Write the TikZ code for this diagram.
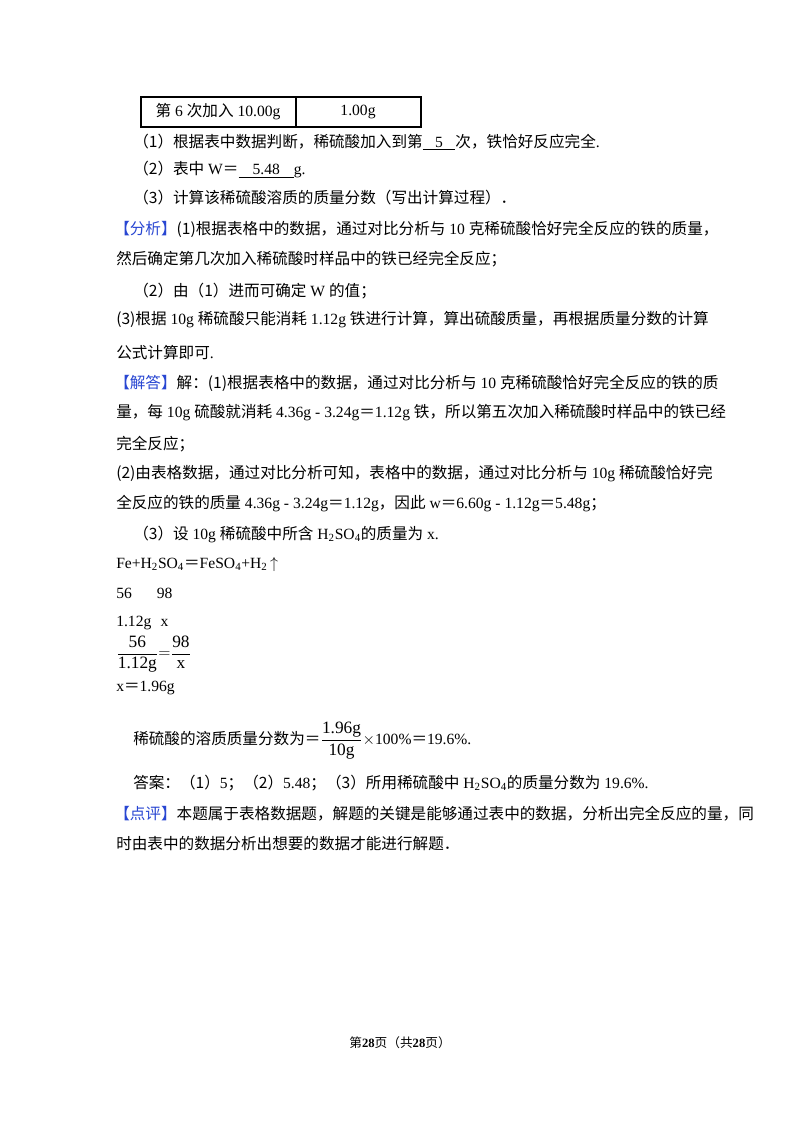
\documentclass[tikz,border=0pt]{standalone}
\usepackage{amsmath}
\usepackage{fontspec}
\setmainfont{Liberation Serif}
\newfontfamily\cjk{Noto Sans CJK SC}
\definecolor{hb}{RGB}{40,70,210}
\newcommand{\hd}[1]{{\color{hb}\cjk【#1】}}
\begin{document}
\begin{tikzpicture}[x=0.75pt,y=-0.75pt,
  t/.style={anchor=west,inner sep=0pt,font=\fontsize{11.7}{13}\selectfont}]
\useasboundingbox (0,0) rectangle (800,1132);
\fill[white] (0,0) rectangle (800,1132);
\draw[line width=0.8pt] (141,97) rectangle (421,127) (296,97) -- (296,127);
\node[t,anchor=center] (c1) at (218,112) {{\cjk 第} 6 {\cjk 次加入} 10.00g};
\node[t,anchor=center] (c2) at (358,112) {1.00g};
\node[t] (l1) at (133,142) {{\cjk （1）根据表中数据判断，稀硫酸加入到第}\underline{\hspace{0.8em}5\hspace{0.8em}}{\cjk 次，铁恰好反应完全}.};
\node[t] (l2) at (133,170) {{\cjk （2）表中} W{\cjk ＝}\underline{\hspace{0.9em}5.48\hspace{0.9em}}g.};
\node[t] (l3) at (133,198) {\cjk （3）计算该稀硫酸溶质的质量分数（写出计算过程）．};
\node[t] (l4) at (114,229) {\hd{分析}{\cjk (1)根据表格中的数据，通过对比分析与} 10 {\cjk 克稀硫酸恰好完全反应的铁的质量，}};
\node[t] (l5) at (116,259) {\cjk 然后确定第几次加入稀硫酸时样品中的铁已经完全反应；};
\node[t] (l6) at (133,291) {{\cjk （2）由（1）进而可确定} W {\cjk 的值；}};
\node[t] (l7) at (116,320) {{\cjk (3)根据} 10g {\cjk 稀硫酸只能消耗} 1.12g {\cjk 铁进行计算，算出硫酸质量，再根据质量分数的计算}};
\node[t] (l8) at (116,353) {{\cjk 公式计算即可}.};
\node[t] (l9) at (114,383) {\hd{解答}{\cjk 解：(1)根据表格中的数据，通过对比分析与} 10 {\cjk 克稀硫酸恰好完全反应的铁的质}};
\node[t] (l10) at (116,413) {{\cjk 量，每} 10g {\cjk 硫酸就消耗} 4.36g - 3.24g{\cjk ＝}1.12g {\cjk 铁，所以第五次加入稀硫酸时样品中的铁已经}};
\node[t] (l11) at (116,444) {\cjk 完全反应；};
\node[t] (l12) at (116,474) {{\cjk (2)由表格数据，通过对比分析可知，表格中的数据，通过对比分析与} 10g {\cjk 稀硫酸恰好完}};
\node[t] (l13) at (116,504) {{\cjk 全反应的铁的质量} 4.36g - 3.24g{\cjk ＝}1.12g{\cjk ，因此} w{\cjk ＝}6.60g - 1.12g{\cjk ＝}5.48g{\cjk ；}};
\node[t] (l14) at (133,534) {{\cjk （3）设} 10g {\cjk 稀硫酸中所含} H\textsubscript{2}SO\textsubscript{4}{\cjk 的质量为} x.};
\node[t] (l15) at (116,564) {Fe+H\textsubscript{2}SO\textsubscript{4}{\cjk ＝}FeSO\textsubscript{4}+H\textsubscript{2}\,$\uparrow$};
\node[t] (l16) at (116,593) {56\hspace{1.6em}98};
\node[t] (l17) at (116,623) {1.12g\hspace{0.6em}x};
\node[t,font=\fontsize{13}{15}\selectfont] (l18) at (116,654) {$\dfrac{\hbox{56}}{\hbox{1.12g}}{=}\dfrac{\hbox{98}}{\hbox{x}}$};
\node[t] (l19) at (116,688) {x{\cjk ＝}1.96g};
\node[t] (l20) at (133,741) {{\cjk 稀硫酸的溶质质量分数为＝}{\fontsize{13}{15}\selectfont$\dfrac{\hbox{1.96g}}{\hbox{10g}}$}$\times$100\%{\cjk ＝}19.6\%.};
\node[t] (l21) at (133,783) {{\cjk 答案：（1）}5{\cjk ；（2）}5.48{\cjk ；（3）所用稀硫酸中} H\textsubscript{2}SO\textsubscript{4}{\cjk 的质量分数为} 19.6\%.};
\node[t] (l22) at (114,814) {\hd{点评}{\cjk 本题属于表格数据题，解题的关键是能够通过表中的数据，分析出完全反应的量，同}};
\node[t] (l23) at (116,844) {\cjk 时由表中的数据分析出想要的数据才能进行解题．};
\node[anchor=center,inner sep=0pt,font=\fontsize{9.5}{11}\selectfont] (ft) at (400,1043) {{\cjk 第}\textbf{28}{\cjk 页（共}\textbf{28}{\cjk 页）}};
\end{tikzpicture}
\end{document}
